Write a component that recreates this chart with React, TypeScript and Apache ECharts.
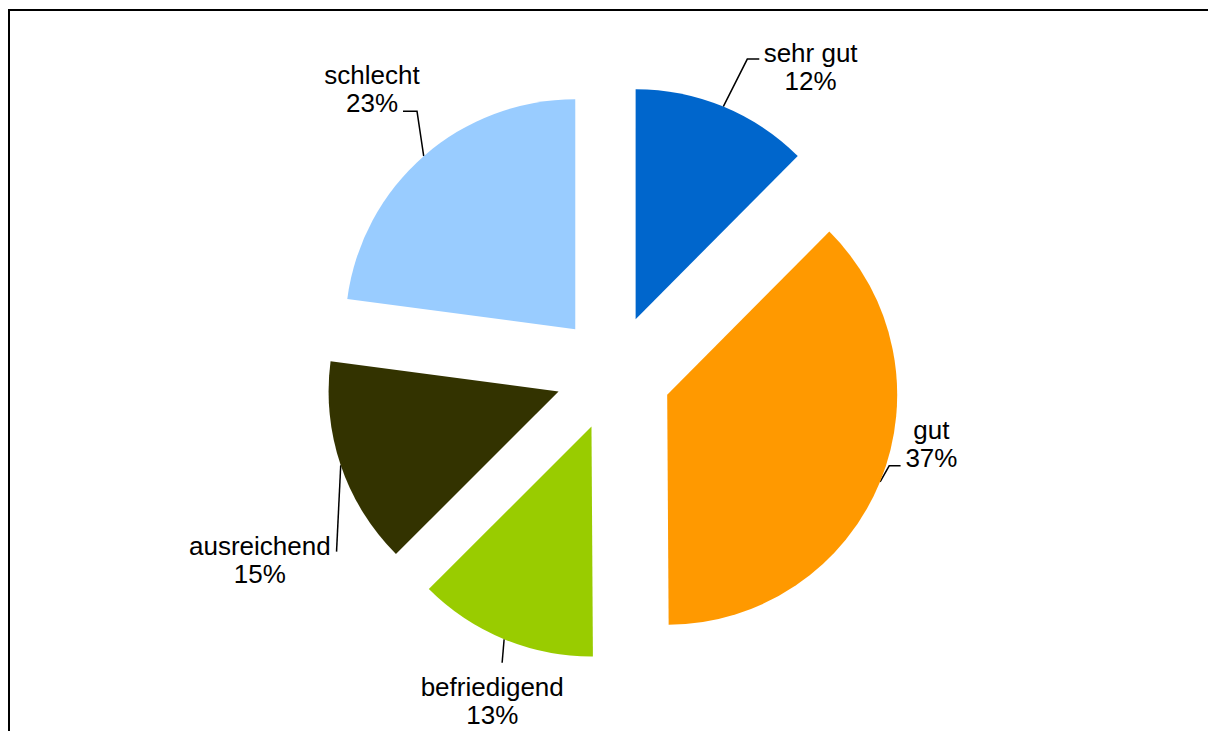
import React, { useEffect, useRef } from "react";
import * as echarts from "echarts";

// Data (percent shares; labels show rounded %)
const categories = ["sehr gut", "gut", "befriedigend", "ausreichend", "schlecht"];
const values = [12.45, 37.45, 12.6, 14.6, 22.9];
const colors = ["#0066CC", "#FF9900", "#99CC00", "#333300", "#99CCFF"];

// Layout / style (not data)
const CX = 613.5;
const CY = 372.8;
const RADIUS = 230;
const EXPLODE = 58;
const FONT = "'Liberation Sans', Arial, sans-serif";

// Leader line & label offsets relative to the arc anchor point computed by ECharts
const leaders = [
  { c: [24, -47.5], e: [36, -47.5], l: [87.3, -39.5] }, // sehr gut
  { c: [9.1, -16], e: [20.5, -16], l: [51.3, -38] }, // gut
  { c: [-2, 23.5], e: [-2, 23.5], l: [-11.9, 62.1] }, // befriedigend
  { c: [-4.2, 86.4], e: [-4.2, 86.4], l: [-80.9, 94.4] }, // ausreichend
  { c: [-6.7, -44.8], e: [-20.7, -44.8], l: [-51.7, -67.1] }, // schlecht
];

export default function App() {
  const ref = useRef<HTMLDivElement>(null);

  useEffect(() => {
    if (!ref.current) return;
    const chart = echarts.init(ref.current, undefined, { renderer: "svg" });

    const total = values.reduce((a, b) => a + b, 0);
    let cum = 0;
    const centers = values.map((v) => {
      const mid = ((cum + v / 2) / total) * Math.PI * 2;
      cum += v;
      return [CX + EXPLODE * Math.sin(mid), CY - EXPLODE * Math.cos(mid)];
    });

    const series = categories.map((_, i) => ({
      type: "pie",
      silent: true,
      animation: false,
      center: centers[i],
      radius: RADIUS,
      startAngle: 90,
      clockwise: true,
      avoidLabelOverlap: false,
      itemStyle: { borderWidth: 0 },
      emphasis: { disabled: true },
      label: {
        show: true,
        position: "outside",
        color: "#000",
        fontFamily: FONT,
        fontSize: 26,
        lineHeight: 28,
        formatter: (p: any) => `${p.name}\n${Math.round(p.percent)}%`,
      },
      labelLine: {
        show: true,
        lineStyle: { color: "#000", width: 1.5 },
      },
      labelLayout: (p: any) => {
        if (!p.labelLinePoints) return {};
        const o = leaders[p.dataIndex];
        const a = p.labelLinePoints[0];
        return {
          x: a[0] + o.l[0],
          y: a[1] + o.l[1],
          align: "center",
          verticalAlign: "middle",
          labelLinePoints: [
            [a[0], a[1]],
            [a[0] + o.c[0], a[1] + o.c[1]],
            [a[0] + o.e[0], a[1] + o.e[1]],
          ],
        };
      },
      data: categories.map((name, j) => ({
        name,
        value: values[j],
        itemStyle: { color: j === i ? colors[j] : "rgba(0,0,0,0)" },
        label: { show: j === i },
        labelLine: { show: j === i },
      })),
    }));

    chart.setOption({
      animation: false,
      backgroundColor: "#fff",
      graphic: [
        {
          type: "rect",
          z: -10,
          shape: { x: 9, y: 10, width: 1400, height: 1000 },
          style: { fill: "none", stroke: "#000", lineWidth: 2 },
          silent: true,
        },
      ],
      series,
    } as any);

    return () => chart.dispose();
  }, []);

  return (
    <div
      ref={ref}
      style={{ position: "absolute", left: 0, top: 0, width: 1208, height: 731 }}
    />
  );
}
